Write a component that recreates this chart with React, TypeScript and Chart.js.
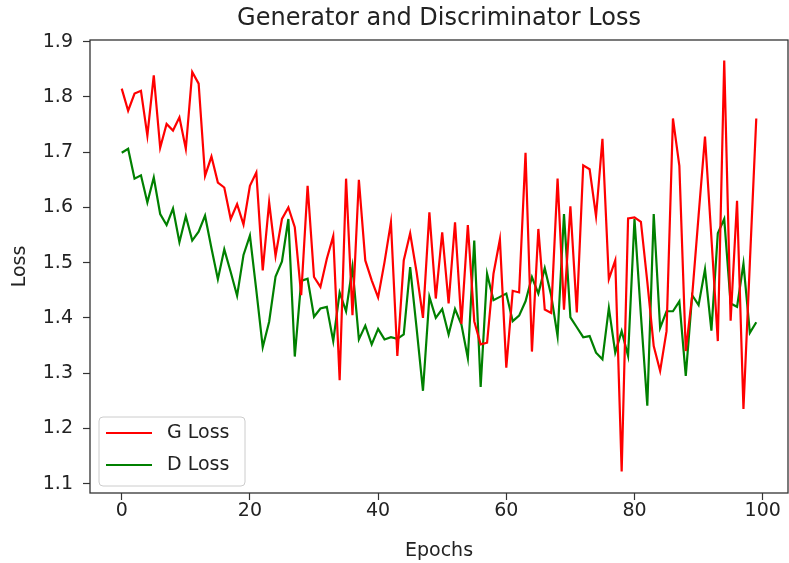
import React, { useEffect, useRef } from "react";
import { Chart, registerables } from "chart.js";

Chart.register(...registerables);

const TITLE = "Generator and Discriminator Loss";
const X_LABEL = "Epochs";
const Y_LABEL = "Loss";
const SERIES_NAMES = ["G Loss", "D Loss"];
const SERIES_COLORS = ["#ff0000", "#008000"];

const X_TICKS = [0, 20, 40, 60, 80, 100];
const Y_TICKS = [1.1, 1.2, 1.3, 1.4, 1.5, 1.6, 1.7, 1.8, 1.9];
const X_RANGE = [-4.95, 103.95];
const Y_RANGE = [1.083, 1.903];

const G_LOSS = [
  1.815, 1.775, 1.806, 1.811, 1.730, 1.839, 1.708, 1.751, 1.739, 1.763,
  1.706, 1.845, 1.824, 1.657, 1.692, 1.645, 1.636, 1.579, 1.606, 1.569,
  1.639, 1.663, 1.486, 1.609, 1.512, 1.579, 1.600, 1.564, 1.441, 1.639,
  1.474, 1.456, 1.507, 1.548, 1.287, 1.652, 1.405, 1.650, 1.504, 1.468,
  1.437, 1.501, 1.573, 1.331, 1.504, 1.553, 1.483, 1.400, 1.591, 1.435,
  1.555, 1.426, 1.573, 1.389, 1.568, 1.394, 1.352, 1.355, 1.480, 1.542,
  1.310, 1.449, 1.446, 1.699, 1.339, 1.561, 1.415, 1.409, 1.652, 1.415,
  1.602, 1.410, 1.676, 1.669, 1.584, 1.724, 1.470, 1.504, 1.122, 1.580,
  1.582, 1.574, 1.465, 1.349, 1.304, 1.376, 1.761, 1.675, 1.340, 1.440,
  1.585, 1.728, 1.545, 1.358, 1.866, 1.395, 1.612, 1.235, 1.500, 1.761,
];

const D_LOSS = [
  1.699, 1.706, 1.652, 1.658, 1.609, 1.654, 1.588, 1.568, 1.598, 1.537,
  1.584, 1.540, 1.556, 1.585, 1.526, 1.470, 1.524, 1.483, 1.440, 1.514,
  1.549, 1.450, 1.347, 1.393, 1.475, 1.502, 1.579, 1.330, 1.467, 1.471,
  1.402, 1.417, 1.420, 1.358, 1.446, 1.412, 1.492, 1.361, 1.386, 1.352,
  1.380, 1.361, 1.365, 1.362, 1.370, 1.492, 1.382, 1.268, 1.438, 1.400,
  1.416, 1.370, 1.416, 1.388, 1.327, 1.540, 1.275, 1.480, 1.432, 1.438,
  1.444, 1.394, 1.404, 1.430, 1.474, 1.444, 1.490, 1.441, 1.367, 1.588,
  1.401, 1.383, 1.365, 1.367, 1.337, 1.325, 1.418, 1.337, 1.376, 1.331,
  1.579, 1.405, 1.241, 1.588, 1.382, 1.412, 1.412, 1.430, 1.295, 1.441,
  1.423, 1.488, 1.377, 1.553, 1.579, 1.426, 1.420, 1.498, 1.373, 1.392,
];

const FONT = "'DejaVu Sans', sans-serif";
const TEXT_COLOR = "#222222";

const toPoints = (arr: number[]) => arr.map((v, i) => ({ x: i, y: v }));

const decorPlugin = {
  id: "mplDecor",
  afterDatasetsDraw(chart: any) {
    const { ctx, chartArea } = chart;
    const { left, right, top, bottom } = chartArea;
    ctx.save();
    // spines
    ctx.strokeStyle = "#333333";
    ctx.lineWidth = 1.3;
    ctx.strokeRect(left, top, right - left, bottom - top);

    // legend
    const bx = left + 9;
    const bw = 146;
    const bh = 69;
    const by = bottom - 7 - bh;
    const r = 4;
    ctx.beginPath();
    ctx.moveTo(bx + r, by);
    ctx.lineTo(bx + bw - r, by);
    ctx.quadraticCurveTo(bx + bw, by, bx + bw, by + r);
    ctx.lineTo(bx + bw, by + bh - r);
    ctx.quadraticCurveTo(bx + bw, by + bh, bx + bw - r, by + bh);
    ctx.lineTo(bx + r, by + bh);
    ctx.quadraticCurveTo(bx, by + bh, bx, by + bh - r);
    ctx.lineTo(bx, by + r);
    ctx.quadraticCurveTo(bx, by, bx + r, by);
    ctx.closePath();
    ctx.fillStyle = "rgba(255,255,255,0.8)";
    ctx.fill();
    ctx.strokeStyle = "#cccccc";
    ctx.lineWidth = 1;
    ctx.stroke();

    const datasets = chart.data.datasets;
    ctx.font = `19px ${FONT}`;
    ctx.textBaseline = "middle";
    ctx.textAlign = "left";
    datasets.forEach((ds: any, i: number) => {
      const ly = by + 16 + i * 32;
      ctx.strokeStyle = ds.borderColor;
      ctx.lineWidth = 2.2;
      ctx.beginPath();
      ctx.moveTo(bx + 7, ly);
      ctx.lineTo(bx + 53, ly);
      ctx.stroke();
      ctx.fillStyle = TEXT_COLOR;
      ctx.fillText(ds.label, bx + 68, ly);
    });

    // title centred over the axes
    ctx.font = `24px ${FONT}`;
    ctx.textAlign = "center";
    ctx.textBaseline = "middle";
    ctx.fillStyle = TEXT_COLOR;
    ctx.fillText(TITLE, (left + right) / 2, 19);
    ctx.restore();
  },
};

export default function App() {
  const canvasRef = useRef<HTMLCanvasElement | null>(null);

  useEffect(() => {
    const canvas = canvasRef.current;
    if (!canvas) return;
    const chart = new Chart(canvas, {
      type: "line",
      data: {
        datasets: [
          {
            label: SERIES_NAMES[0],
            data: toPoints(G_LOSS),
            borderColor: SERIES_COLORS[0],
            backgroundColor: SERIES_COLORS[0],
            borderWidth: 2.2,
            pointRadius: 0,
            tension: 0,
            fill: false,
          },
          {
            label: SERIES_NAMES[1],
            data: toPoints(D_LOSS),
            borderColor: SERIES_COLORS[1],
            backgroundColor: SERIES_COLORS[1],
            borderWidth: 2.2,
            pointRadius: 0,
            tension: 0,
            fill: false,
          },
        ],
      },
      options: {
        responsive: false,
        animation: false,
        layout: { padding: { top: 40, right: 1, left: 0, bottom: 0 } },
        plugins: {
          legend: { display: false },
          title: { display: false },
          tooltip: { enabled: false },
        },
        scales: {
          x: {
            type: "linear",
            min: X_RANGE[0],
            max: X_RANGE[1],
            afterBuildTicks: (scale: any) => {
              scale.ticks = X_TICKS.map((v) => ({ value: v }));
            },
            afterFit: (scale: any) => {
              scale.height = 70;
            },
            border: { display: false },
            grid: {
              drawOnChartArea: false,
              drawTicks: true,
              tickLength: 7,
              color: "#333333",
              tickWidth: 1.2,
            },
            ticks: {
              autoSkip: false,
              maxRotation: 0,
              padding: 0,
              color: TEXT_COLOR,
              font: { family: FONT, size: 19 },
              callback: (v: any) => String(v),
            },
            title: {
              display: true,
              text: X_LABEL,
              color: TEXT_COLOR,
              font: { family: FONT, size: 19 },
              padding: { top: 0, bottom: 1 },
            },
          },
          y: {
            type: "linear",
            min: Y_RANGE[0],
            max: Y_RANGE[1],
            afterBuildTicks: (scale: any) => {
              scale.ticks = Y_TICKS.map((v) => ({ value: v }));
            },
            afterFit: (scale: any) => {
              scale.width = 90;
            },
            border: { display: false },
            grid: {
              drawOnChartArea: false,
              drawTicks: true,
              tickLength: 7,
              color: "#333333",
              tickWidth: 1.2,
            },
            ticks: {
              autoSkip: false,
              padding: 10,
              color: TEXT_COLOR,
              font: { family: FONT, size: 19 },
              callback: (v: any) => Number(v).toFixed(1),
            },
            title: {
              display: true,
              text: Y_LABEL,
              color: TEXT_COLOR,
              font: { family: FONT, size: 19 },
              padding: { top: 9, bottom: 0 },
            },
          },
        },
      },
      plugins: [decorPlugin],
    } as any);
    return () => chart.destroy();
  }, []);

  return (
    <div style={{ position: "absolute", left: 0, top: 0, width: 789, height: 563, background: "#fff" }}>
      <canvas ref={canvasRef} width={789} height={563} style={{ display: "block" }} />
    </div>
  );
}
